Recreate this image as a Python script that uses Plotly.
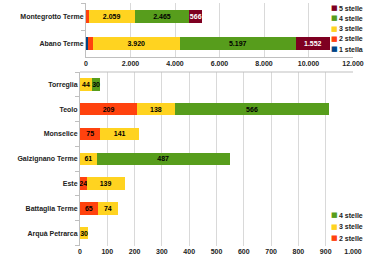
import plotly.graph_objects as go

# ---- Top chart data ----
top_cats = ["Abano Terme", "Montegrotto Terme"]
top_1 = [80, 0]
top_2 = [220, 125]
top_3 = [3920, 2059]
top_4 = [5197, 2465]
top_5 = [1552, 566]

# ---- Bottom chart data ----
bot_cats = ["Arquà Petrarca", "Battaglia Terme", "Este", "Galzignano Terme",
            "Monselice", "Teolo", "Torreglia"]
bot_2 = [0, 65, 24, 0, 75, 209, 0]
bot_3 = [30, 74, 139, 61, 141, 138, 44]
bot_4 = [0, 0, 0, 487, 0, 566, 30]

top_ticks = [0, 2000, 4000, 6000, 8000, 10000, 12000]
bot_ticks = [0, 100, 200, 300, 400, 500, 600, 700, 800, 900, 1000]

top_legend = ["5 stelle", "4 stelle", "3 stelle", "2 stelle", "1 stella"]
bot_legend = ["4 stelle", "3 stelle", "2 stelle"]

C1 = "#004586"
C2 = "#FF420E"
C3 = "#FFD320"
C4 = "#579D1C"
C5 = "#7E0021"

FONT = "Liberation Sans"
TXT = "#222222"
W, H = 370, 258


def fmt(v):
    return f"{v:,}".replace(",", ".")


def labels(vals, skip_small=0):
    return [fmt(v) if v > skip_small else "" for v in vals]


fig = go.Figure()

top_series = [("1 stella", top_1, C1), ("2 stelle", top_2, C2),
              ("3 stelle", top_3, C3), ("4 stelle", top_4, C4),
              ("5 stelle", top_5, C5)]
for name, vals, col in top_series:
    fig.add_trace(go.Bar(
        y=top_cats, x=vals, name=name, orientation="h", marker_color=col,
        marker_line_width=0, width=0.45, showlegend=False,
        text=labels(vals, 300), textposition="inside", insidetextanchor="middle",
        textangle=0,
        textfont=dict(size=7, family=FONT, weight="bold",
                      color="white" if col == C5 else "black"),
        xaxis="x", yaxis="y", hoverinfo="x+name",
    ))

bot_series = [("2 stelle", bot_2, C2), ("3 stelle", bot_3, C3), ("4 stelle", bot_4, C4)]
for name, vals, col in bot_series:
    fig.add_trace(go.Bar(
        y=bot_cats, x=vals, name=name, orientation="h", marker_color=col,
        marker_line_width=0, width=0.5, showlegend=False,
        text=labels(vals), textposition="inside", insidetextanchor="middle",
        textangle=0,
        textfont=dict(size=7, family=FONT, weight="bold", color="black"),
        xaxis="x2", yaxis="y2", hoverinfo="x+name",
    ))

# legend built from annotations (compact, like the reference)
annotations = []
top_colors = {"5 stelle": C5, "4 stelle": C4, "3 stelle": C3, "2 stelle": C2, "1 stella": C1}
for i, name in enumerate(top_legend):
    yy = 8 + i * 10.3
    annotations.append(dict(x=334 / W, y=1 - yy / H, xref="paper", yref="paper",
                            text="■", showarrow=False, xanchor="center", yanchor="middle",
                            font=dict(size=7, family="DejaVu Sans", color=top_colors[name])))
    annotations.append(dict(x=337 / W, y=1 - yy / H, xref="paper", yref="paper",
                            text=name, showarrow=False, xanchor="left", yanchor="middle",
                            font=dict(size=7, family=FONT, weight="bold", color=TXT)))
bot_colors = {"4 stelle": C4, "3 stelle": C3, "2 stelle": C2}
for i, name in enumerate(bot_legend):
    yy = 215 + i * 11.5
    annotations.append(dict(x=334 / W, y=1 - yy / H, xref="paper", yref="paper",
                            text="■", showarrow=False, xanchor="center", yanchor="middle",
                            font=dict(size=7, family="DejaVu Sans", color=bot_colors[name])))
    annotations.append(dict(x=337 / W, y=1 - yy / H, xref="paper", yref="paper",
                            text=name, showarrow=False, xanchor="left", yanchor="middle",
                            font=dict(size=7, family=FONT, weight="bold", color=TXT)))

tick_font = dict(size=7, family=FONT, weight="bold", color=TXT)

fig.update_layout(
    width=W, height=H,
    margin=dict(l=0, r=0, t=0, b=0, pad=0, autoexpand=False),
    paper_bgcolor="white", plot_bgcolor="white",
    barmode="stack",
    separators=",.",
    showlegend=False,
    font=dict(family=FONT, size=7, color=TXT),
    uniformtext=dict(minsize=7, mode="show"),
    xaxis=dict(domain=[86 / W, 353 / W], range=[0, 12000], tickvals=top_ticks,
               ticktext=[fmt(v) for v in top_ticks], showgrid=True, gridcolor="#d9d9d9",
               gridwidth=1, zeroline=False, showline=True, linecolor="#bfbfbf",
               automargin=False, tickfont=tick_font, anchor="y", ticks=""),
    yaxis=dict(domain=[1 - 57 / H, 1 - 3 / H], type="category",
               categoryorder="array", categoryarray=top_cats, automargin=False,
               showline=True, linecolor="#bfbfbf", ticks="outside", tickson="boundaries",
               ticklen=4, tickcolor="#bfbfbf", showgrid=False, anchor="x",
               tickfont=tick_font),
    xaxis2=dict(domain=[80 / W, 353 / W], range=[0, 1000], tickvals=bot_ticks,
                ticktext=[fmt(v) for v in bot_ticks], showgrid=True, gridcolor="#d9d9d9",
                gridwidth=1, zeroline=False, showline=False, automargin=False,
                tickfont=tick_font, anchor="y2", ticks=""),
    yaxis2=dict(domain=[1 - 245.5 / H, 1 - 72 / H], type="category",
                categoryorder="array", categoryarray=bot_cats, automargin=False,
                showline=True, linecolor="#bfbfbf", ticks="outside", tickson="boundaries",
                ticklen=4, tickcolor="#bfbfbf", showgrid=False, anchor="x2",
                tickfont=tick_font),
    annotations=annotations,
    shapes=[dict(type="line", xref="x2 domain", yref="y2 domain", x0=0, x1=1, y0=1, y1=1,
                 line=dict(color="#bfbfbf", width=1))],
)

fig.write_html("out.html", config={"displayModeBar": False},
               post_script="document.body.style.margin='0';")
